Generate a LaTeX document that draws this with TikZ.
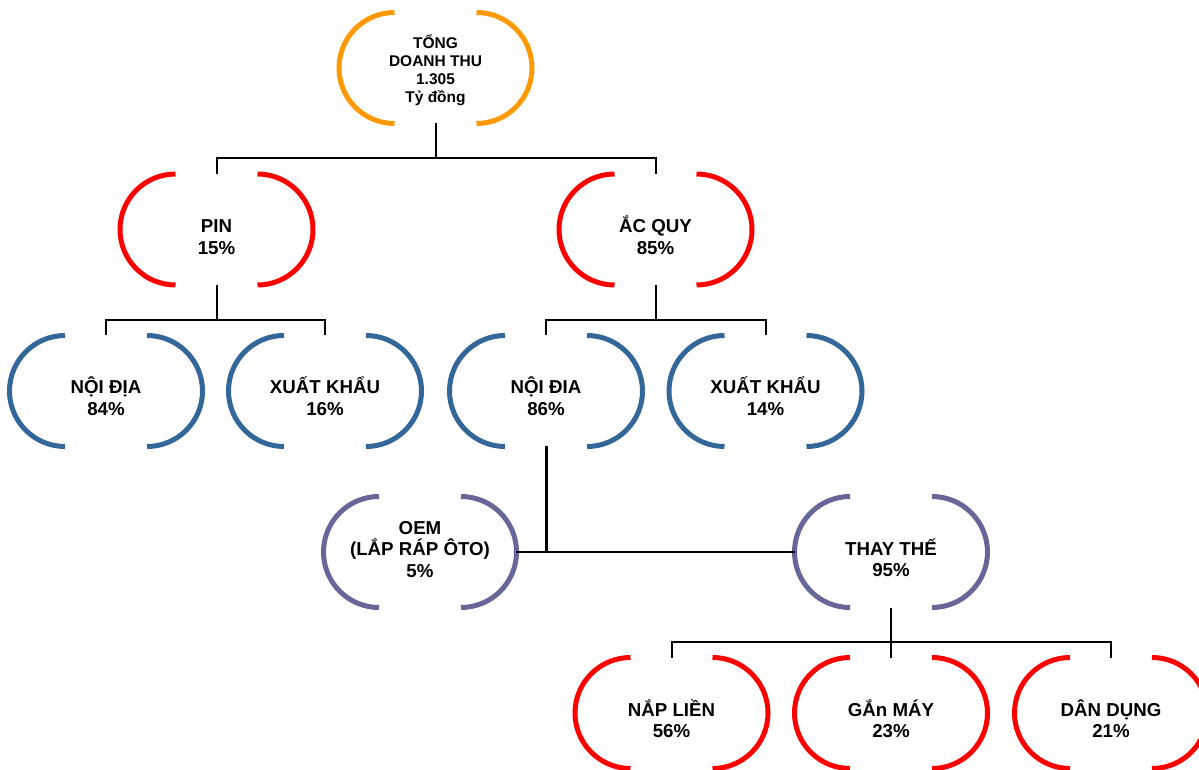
\documentclass[tikz,border=0pt]{standalone}
\usepackage{fontspec}
\setmainfont{Liberation Sans}
\definecolor{cOrange}{HTML}{FF9900}
\definecolor{cRed}{HTML}{FF0000}
\definecolor{cBlue}{HTML}{336699}
\definecolor{cPurple}{HTML}{666699}
\newcommand\ctext[1]{\vtop{\halign{\hfil##\hfil\cr#1\crcr}}}
\newcommand\brk[2]{%
  \draw[arcline,#2] ([xshift=-41pt]#1.north) arc[start angle=90,end angle=270,radius=55.5pt];
  \draw[arcline,#2] ([xshift=41pt]#1.north) arc[start angle=90,end angle=-90,radius=55.5pt];}
\tikzset{
  box/.style={draw=none, minimum width=192pt, minimum height=111pt, inner sep=0pt, outer sep=0pt},
  txt/.style={anchor=base, inner sep=0pt, text=black, font=\bfseries\fontsize{18.7pt}{21.7pt}\selectfont},
  txtsmall/.style={anchor=base, inner sep=0pt, text=black, font=\bfseries\fontsize{15.5pt}{17.7pt}\selectfont},
  conn/.style={draw=black, line width=2pt},
  connthick/.style={draw=black, line width=3pt},
  arcline/.style={line width=5pt}
}
\begin{document}
\begin{tikzpicture}[x=1pt,y=1pt]
\fill[white] (0,0) rectangle (1199,769);
\useasboundingbox (0,0) rectangle (1199,769);
% shape nodes
\node[box] (top) at (435.5,701) {};
\node[box] (pin) at (216.5,539.5) {};
\node[box] (acquy) at (655.5,539.5) {};
\node[box] (nd1) at (106,378) {};
\node[box] (xk1) at (325,378) {};
\node[box] (nd2) at (546,378) {};
\node[box] (xk2) at (765.5,378) {};
\node[box] (oem) at (420,217) {};
\node[box] (thaythe) at (891,217) {};
\node[box] (naplien) at (671.5,56) {};
\node[box] (ganmay) at (891,56) {};
\node[box] (dandung) at (1111,56) {};
% brackets
\brk{top}{cOrange}
\brk{pin}{cRed}
\brk{acquy}{cRed}
\brk{nd1}{cBlue}
\brk{xk1}{cBlue}
\brk{nd2}{cBlue}
\brk{xk2}{cBlue}
\brk{oem}{cPurple}
\brk{thaythe}{cPurple}
\brk{naplien}{cRed}
\brk{ganmay}{cRed}
\brk{dandung}{cRed}
% texts
\node[txtsmall] (tTop) at ([yshift=19pt]top.center) {\ctext{TỔNG\cr DOANH THU\cr 1.305\cr Tỷ đồng}};
\node[txt] (tPin) at ([yshift=-3pt]pin.center) {\ctext{PIN\cr 15\%}};
\node[txt] (tAcquy) at ([yshift=-3pt]acquy.center) {\ctext{ẮC QUY\cr 85\%}};
\node[txt] (tNd1) at ([yshift=-3pt]nd1.center) {\ctext{NỘI ĐỊA\cr 84\%}};
\node[txt] (tXk1) at ([yshift=-3pt]xk1.center) {\ctext{XUẤT KHẨU\cr 16\%}};
\node[txt] (tNd2) at ([yshift=-3pt]nd2.center) {\ctext{NỘI ĐIA\cr 86\%}};
\node[txt] (tXk2) at ([yshift=-3pt]xk2.center) {\ctext{XUẤT KHẨU\cr 14\%}};
\node[txt] (tOem) at ([yshift=18pt]oem.center) {\ctext{OEM\cr (LẮP RÁP ÔTO)\cr 5\%}};
\node[txt] (tThay) at ([yshift=-3pt]thaythe.center) {\ctext{THAY THẾ\cr 95\%}};
\node[txt] (tNap) at ([yshift=-3pt]naplien.center) {\ctext{NẮP LIỀN\cr 56\%}};
\node[txt] (tGan) at ([yshift=-3pt]ganmay.center) {\ctext{GẮn MÁY\cr 23\%}};
\node[txt] (tDan) at ([yshift=-3pt]dandung.center) {\ctext{DÂN DỤNG\cr 21\%}};
% connectors
\coordinate (j1) at (435.5,611);
\coordinate (j2) at (216.5,449);
\coordinate (j3) at (655.5,449);
\coordinate (j5) at (891,127);
\draw[conn] (top.south) -- (j1);
\draw[conn] (pin.north) |- (j1) -| (acquy.north);
\draw[conn] (pin.south) -- (j2);
\draw[conn] (nd1.north) |- (j2) -| (xk1.north);
\draw[conn] (acquy.south) -- (j3);
\draw[conn] (nd2.north) |- (j3) -| (xk2.north);
\draw[connthick] (nd2.south) -- (nd2.south |- oem.east);
\draw[conn] (oem.east) -- (thaythe.west);
\draw[conn] (thaythe.south) -- (ganmay.north);
\draw[conn] (naplien.north) |- (j5) -| (dandung.north);
\end{tikzpicture}
\end{document}
